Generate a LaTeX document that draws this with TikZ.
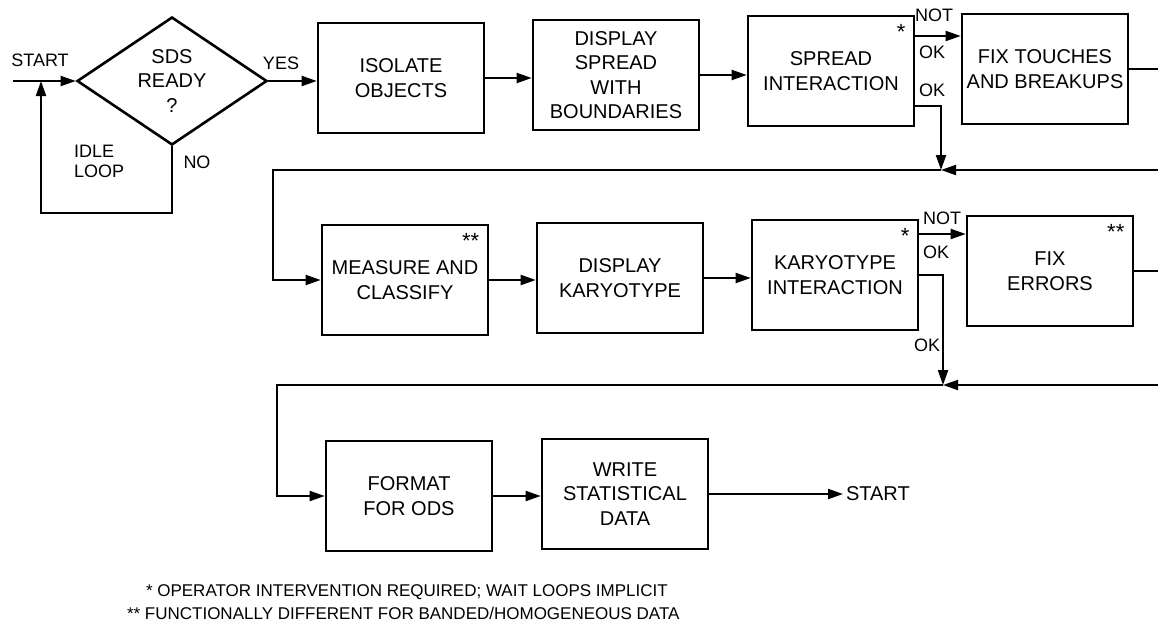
\documentclass[tikz,border=0pt]{standalone}
\usepackage{fontspec}
\setmainfont{Liberation Sans}
\usetikzlibrary{shapes.geometric, arrows.meta}

\begin{document}
\begin{tikzpicture}[x=1pt, y=-1pt, ->, >={Triangle[length=15pt, width=10pt]}, line width=2pt,
    font=\fontsize{20}{24.5}\selectfont,
    block/.style={rectangle, draw, line width=2.6pt, minimum width=166pt, minimum height=110pt, align=center, inner sep=2pt},
    decision/.style={diamond, draw, line width=2.6pt, aspect=1.48, minimum width=190pt, minimum height=128pt, inner sep=0pt, align=center},
    flagged/.style={label={[anchor=north east, inner sep=9pt, font=\fontsize{22}{22}\selectfont]north east:#1}},
    tag/.style={inner sep=1pt, font=\fontsize{18}{20}\selectfont},
    note/.style={anchor=west, inner sep=0pt, font=\fontsize{17}{20}\selectfont}]

      \useasboundingbox (0,0) rectangle (1158,632);

      % Define steps
      \node[decision] (ready) at (172,81) {SDS\\READY\\?};
      \node[block] (isolate) at (401,78) {ISOLATE\\OBJECTS};
      \node[block] (dspread) at (616,75) {DISPLAY\\SPREAD\\WITH\\BOUNDARIES};
      \node[block, flagged=*] (spreadint) at (831,71) {SPREAD\\INTERACTION};
      \node[block] (fixtouch) at (1045,69) {FIX TOUCHES\\AND BREAKUPS};
      \node[block, flagged=**] (measure) at (405,280) {MEASURE AND\\CLASSIFY};
      \node[block] (dkaryo) at (620,278) {DISPLAY\\KARYOTYPE};
      \node[block, flagged=*] (karyoint) at (835,275) {KARYOTYPE\\INTERACTION};
      \node[block, flagged=**] (fixerr) at (1050,271) {FIX\\ERRORS};
      \node[block] (format) at (409,496) {FORMAT\\FOR ODS};
      \node[block] (writestat) at (625,494) {WRITE\\STATISTICAL\\DATA};
      \node[anchor=west, inner sep=2pt] (restart) at (843,494) {START};

      % Define labels
      \node[tag] (startlbl) at (40,60) {START};
      \node[tag] (yes) at (281,63) {YES};
      \node[tag, anchor=west, align=left] (idle) at (72,161) {IDLE\\LOOP};
      \node[tag] (no) at (197,162) {NO};
      \node[tag] (not1) at (934,15) {NOT};
      \node[tag] (ok1) at (932,52) {OK};
      \node[tag] (ok2) at (932,90) {OK};
      \node[tag] (not2) at (942,218) {NOT};
      \node[tag] (ok3) at (936,252) {OK};
      \node[tag] (ok4) at (927,345) {OK};
      \node[note] (note1) at (145,592) {* OPERATOR INTERVENTION REQUIRED; WAIT LOOPS IMPLICIT};
      \node[note] (note2) at (126,613) {** FUNCTIONALLY DIFFERENT FOR BANDED/HOMOGENEOUS DATA};

      % Define junctions
      \coordinate (entry) at (13,81);
      \coordinate (loopbot) at (41,213);
      \coordinate (j1) at (941,170);
      \coordinate (edge1) at (1158,170);
      \coordinate (turn1) at (273,170);
      \coordinate (j2) at (943,385);
      \coordinate (edge2) at (1158,385);
      \coordinate (turn2) at (277,385);

      % Define transitions
      \draw (entry) -- (ready);
      \draw (ready.south) |- (loopbot) -- (loopbot |- entry);
      \draw (ready.east) -- (ready.east -| isolate.west);
      \draw (isolate.east) -- (isolate.east -| dspread.west);
      \draw (dspread.east) -- (dspread.east -| spreadint.west);
      \draw (measure.east) -- (measure.east -| dkaryo.west);
      \draw (dkaryo.east) -- (dkaryo.east -| karyoint.west);
      \draw (format.east) -- (format.east -| writestat.west);
      \draw (writestat) -- (restart);

      \draw ([yshift=35pt]spreadint.east) -- ([yshift=35pt]spreadint.east -| fixtouch.west);
      \draw ([yshift=-35pt]spreadint.east) -| (j1);
      \draw[-] (fixtouch.east) -- (fixtouch.east -| edge1);
      \draw (edge1) -- (j1);
      \draw (j1) -- (turn1) |- (measure);

      \draw ([yshift=41pt]karyoint.east) -- ([yshift=41pt]karyoint.east -| fixerr.west);
      \draw (karyoint.east) -| (j2);
      \draw[-] (fixerr.east) -- (fixerr.east -| edge2);
      \draw (edge2) -- (j2);
      \draw (j2) -- (turn2) |- (format);

    \end{tikzpicture}
\end{document}
